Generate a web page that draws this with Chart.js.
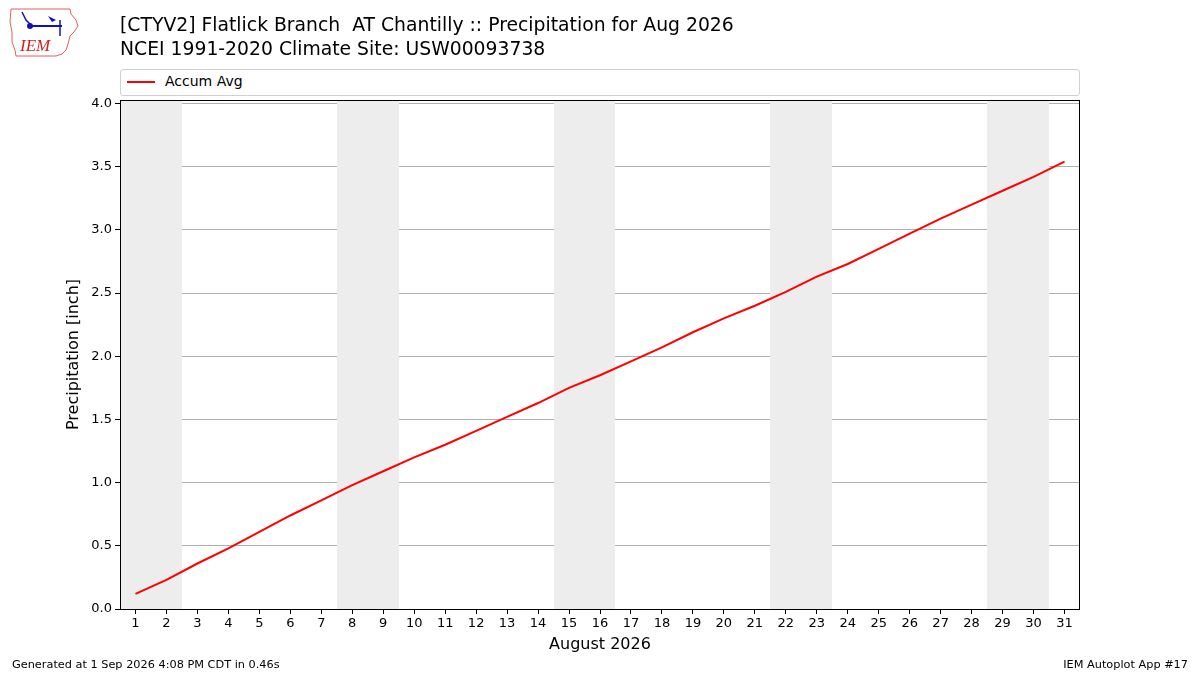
<!DOCTYPE html>
<html>
<head>
<meta charset="utf-8">
<script src="https://cdn.jsdelivr.net/npm/chart.js@4.4.1/dist/chart.umd.min.js"></script>
<style>
  html, body { margin:0; padding:0; background:#fff; }
  body { width:1200px; height:675px; position:relative; overflow:hidden; font-family:"DejaVu Sans", sans-serif; }
  #wrap { position:absolute; left:0; top:0; width:1200px; height:675px; }
  .title { position:absolute; left:120px; font-size:18.8px; color:#000; white-space:pre; line-height:23px; }
  .legend { position:absolute; left:120px; top:69px; width:958px; height:25px; border:1px solid #d0d0d0; border-radius:3px; background:#fff; box-sizing:content-box; }
  .legend .sw { position:absolute; left:6px; top:11px; width:28px; height:2px; background:#ff0000; }
  .legend .lb { position:absolute; left:44px; top:3px; font-size:14px; }
  .foot { position:absolute; top:658px; font-size:11.3px; color:#000; white-space:pre; }
</style>
</head>
<body>
<div id="wrap"><canvas id="c" width="1200" height="675"></canvas></div>
<svg style="position:absolute;left:8px;top:6px" width="72" height="54" viewBox="0 0 72 54">
  <path d="M3,3 L62,3 L63,8 L68,14 L70,20 L66,26 L62,30 L60,38 L58,44 L54,48 L48,50 L8,50 L7,44 L4,36 L4,26 L2,16 Z" fill="none" stroke="#e06060" stroke-width="1"/>
  <line x1="22" y1="20" x2="54" y2="20" stroke="#1010c0" stroke-width="2"/>
  <circle cx="22" cy="20" r="3" fill="#1010c0"/>
  <path d="M40,10 L48,14 L44,16 Z" fill="#1010c0"/>
  <line x1="52" y1="14" x2="52" y2="30" stroke="#1010c0" stroke-width="1.5"/>
  <path d="M14,6 L18,14 L22,18" fill="none" stroke="#1010c0" stroke-width="1.5"/>
  <text x="12" y="45" font-family="Liberation Serif, serif" font-style="italic" font-size="17" fill="#d02020">IEM</text>
</svg>
<div class="title" style="top:13px">[CTYV2] Flatlick Branch  AT Chantilly :: Precipitation for Aug 2026</div>
<div class="title" style="top:37px">NCEI 1991-2020 Climate Site: USW00093738</div>
<div class="legend"><div class="sw"></div><div class="lb">Accum Avg</div></div>
<div class="foot" style="left:12px">Generated at 1 Sep 2026 4:08 PM CDT in 0.46s</div>
<div class="foot" style="right:12px">IEM Autoplot App #17</div>
<script>
const days = [1,2,3,4,5,6,7,8,9,10,11,12,13,14,15,16,17,18,19,20,21,22,23,24,25,26,27,28,29,30,31];
const accumAvg = [0.12,0.23,0.36,0.48,0.61,0.74,0.86,0.98,1.09,1.20,1.30,1.41,1.52,1.63,1.75,1.85,1.96,2.07,2.19,2.30,2.40,2.51,2.63,2.73,2.85,2.97,3.09,3.20,3.31,3.42,3.54];
const weekendDays = [1,2,8,9,15,16,22,23,29,30];
const yTicks = [0,0.5,1.0,1.5,2.0,2.5,3.0,3.5,4.0];
const xLabel = "August 2026";
const yLabel = "Precipitation [inch]";

const shadePlugin = {
  id: 'shade',
  beforeDatasetsDraw(chart) {
    const {ctx, chartArea, scales:{x}} = chart;
    const spans = [];
    weekendDays.forEach(d => {
      const last = spans[spans.length - 1];
      if (last && last[1] === d - 1) last[1] = d; else spans.push([d, d]);
    });
    ctx.save();
    ctx.fillStyle = '#ededed';
    spans.forEach(([s, e]) => {
      const a = Math.round(x.getPixelForValue(s - 0.5)), b = Math.round(x.getPixelForValue(e + 0.5));
      ctx.fillRect(a, chartArea.top, b - a, chartArea.bottom - chartArea.top);
    });
    ctx.restore();
  },
  afterDatasetsDraw(chart) {
    const {ctx, chartArea} = chart;
    ctx.save();
    ctx.strokeStyle = '#000';
    ctx.lineWidth = 1;
    ctx.strokeRect(chartArea.left + 0.5, chartArea.top + 0.5, chartArea.right - chartArea.left - 1, chartArea.bottom - chartArea.top);
    ctx.restore();
  }
};

const bgPlugin = {
  id: 'bg',
  beforeDraw(chart) {
    const ctx = chart.ctx;
    ctx.save(); ctx.fillStyle = '#fff'; ctx.fillRect(0,0,chart.width,chart.height); ctx.restore();
  }
};

new Chart(document.getElementById('c'), {
  type: 'line',
  data: {
    datasets: [{
      label: 'Accum Avg',
      data: days.map((d,i) => ({x:d, y:accumAvg[i]})),
      borderColor: '#ff0000',
      borderWidth: 2,
      pointRadius: 0,
      tension: 0,
      fill: false
    }]
  },
  options: {
    responsive: false,
    animation: false,
    devicePixelRatio: 1,
    layout: { padding: { left: 64, right: 120, top: 100, bottom: 21 } },
    plugins: { legend: { display: false }, tooltip: { enabled: false } },
    scales: {
      x: {
        type: 'linear', min: 0.5, max: 31.5,
        afterBuildTicks: s => { s.ticks = days.map(v => ({value:v})); },
        afterFit: s => { s.height = 45; },
        grid: { drawOnChartArea: false, drawTicks: true, tickLength: 5, tickColor: '#000', color:'#000' },
        border: { display: false },
        ticks: { color:'#000', font: { family:'DejaVu Sans', size: 13 }, padding: 2, maxRotation: 0, autoSkip: false, callback: v => String(v) },
        title: { display: true, text: xLabel, color:'#000', font: { family:'DejaVu Sans', size: 16 }, padding: { top: 4, bottom: 0 } }
      },
      y: {
        type: 'linear', min: 0, max: 4.028,
        afterBuildTicks: s => { s.ticks = yTicks.map(v => ({value:v})); },
        afterFit: s => { s.width = 56; },
        grid: { color: '#b0b0b0', lineWidth: 1, drawTicks: true, tickLength: 5, tickColor: '#000' },
        border: { display: false },
        ticks: { color:'#000', font: { family:'DejaVu Sans', size: 13 }, padding: 3, callback: v => Number(v).toFixed(1) },
        title: { display: true, text: yLabel, color:'#000', font: { family:'DejaVu Sans', size: 16 }, padding: { top: 0, bottom: 0 } }
      }
    }
  },
  plugins: [bgPlugin, shadePlugin]
});
</script>
</body>
</html>
